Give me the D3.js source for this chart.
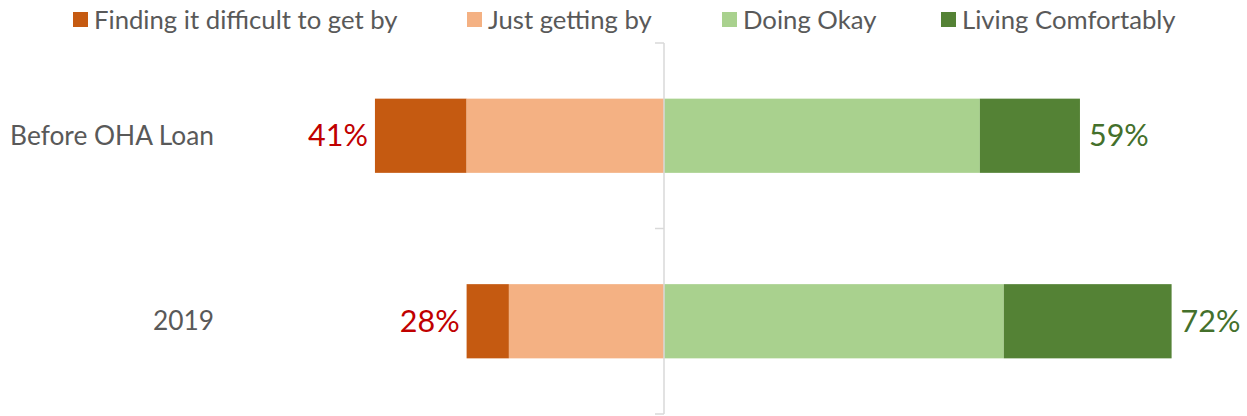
<!DOCTYPE html>
<html>
<head>
<meta charset="utf-8">
<script src="https://cdn.jsdelivr.net/npm/d3@7"></script>
<style>
  html, body { margin: 0; padding: 0; background: #fff; }
  svg { display: block; font-family: Lato, "Open Sans", sans-serif; }
</style>
</head>
<body>
<svg id="chart" width="1247" height="416"></svg>
<script>
// Financial well-being categories, stacked outward from a zero line
const categories = ["Before OHA Loan", "2019"];
const seriesNames = ["Finding it difficult to get by", "Just getting by", "Doing Okay", "Living Comfortably"];
const seriesColors = ["#c55a11", "#f4b183", "#a9d18e", "#548235"];

// Percent of respondents per category (left side: struggling, right side: okay/comfortable)
const difficult   = [13, 6];
const justGetting = [28, 22];
const doingOkay   = [44.8, 48.2];
const comfortable = [14.2, 23.8];

// Totals printed beside each bar
const leftTotals  = [41, 28];
const rightTotals = [59, 72];

const svg = d3.select("#chart");

const x = d3.scaleLinear().domain([-60, 80]).range([241, 1228]);
const y = d3.scaleBand().domain(categories).range([43, 414]).paddingInner(0.6).paddingOuter(0.3);

// Build stacked segments: left side grows from zero toward negative values
const segments = [];
categories.forEach((c, i) => {
  const d1 = difficult[i], d2 = justGetting[i], d3v = doingOkay[i], d4 = comfortable[i];
  segments.push({ cat: c, s: 0, x0: -(d1 + d2), x1: -d2 });
  segments.push({ cat: c, s: 1, x0: -d2, x1: 0 });
  segments.push({ cat: c, s: 2, x0: 0, x1: d3v });
  segments.push({ cat: c, s: 3, x0: d3v, x1: d3v + d4 });
});

svg.append("g").selectAll("rect")
  .data(segments)
  .join("rect")
  .attr("x", d => x(d.x0))
  .attr("y", d => y(d.cat))
  .attr("width", d => x(d.x1) - x(d.x0))
  .attr("height", y.bandwidth())
  .attr("fill", d => seriesColors[d.s]);

// Center axis with tick marks at the band boundaries
const axisG = svg.append("g").attr("stroke", "#d9d9d9").attr("stroke-width", 1.5);
const [r0, r1] = y.range();
axisG.append("line")
  .attr("x1", x(0)).attr("x2", x(0))
  .attr("y1", r0).attr("y2", r1);
const tickYs = [r0, (r0 + r1) / 2, r1];
axisG.selectAll("line.tick")
  .data(tickYs)
  .join("line")
  .attr("class", "tick")
  .attr("x1", x(0) - 9).attr("x2", x(0))
  .attr("y1", d => d).attr("y2", d => d);

// Category labels
svg.append("g").selectAll("text")
  .data(categories)
  .join("text")
  .attr("x", 214)
  .attr("y", d => y(d) + y.bandwidth() / 2)
  .attr("dy", "0.35em")
  .attr("text-anchor", "end")
  .attr("fill", "#595959")
  .attr("font-size", 26.3)
  .text(d => d);

// Totals on both sides
svg.append("g").selectAll("text")
  .data(categories)
  .join("text")
  .attr("x", (d, i) => x(-leftTotals[i]) - 7)
  .attr("y", d => y(d) + y.bandwidth() / 2)
  .attr("dy", "0.35em")
  .attr("text-anchor", "end")
  .attr("fill", "#c00000")
  .attr("font-size", 30.5)
  .text((d, i) => leftTotals[i] + "%");

svg.append("g").selectAll("text")
  .data(categories)
  .join("text")
  .attr("x", (d, i) => x(rightTotals[i]) + 9)
  .attr("y", d => y(d) + y.bandwidth() / 2)
  .attr("dy", "0.35em")
  .attr("text-anchor", "start")
  .attr("fill", "#44702b")
  .attr("font-size", 30.5)
  .text((d, i) => rightTotals[i] + "%");

// Legend
const legendX = [73, 467, 722, 941];
const legend = svg.append("g").selectAll("g")
  .data(seriesNames)
  .join("g")
  .attr("transform", (d, i) => `translate(${legendX[i]},0)`);
legend.append("rect")
  .attr("x", 0).attr("y", 12)
  .attr("width", 15).attr("height", 15)
  .attr("fill", (d, i) => seriesColors[i]);
legend.append("text")
  .attr("x", 21).attr("y", 20)
  .attr("dy", "0.35em")
  .attr("fill", "#595959")
  .attr("font-size", 25.7)
  .text(d => d);
</script>
</body>
</html>
